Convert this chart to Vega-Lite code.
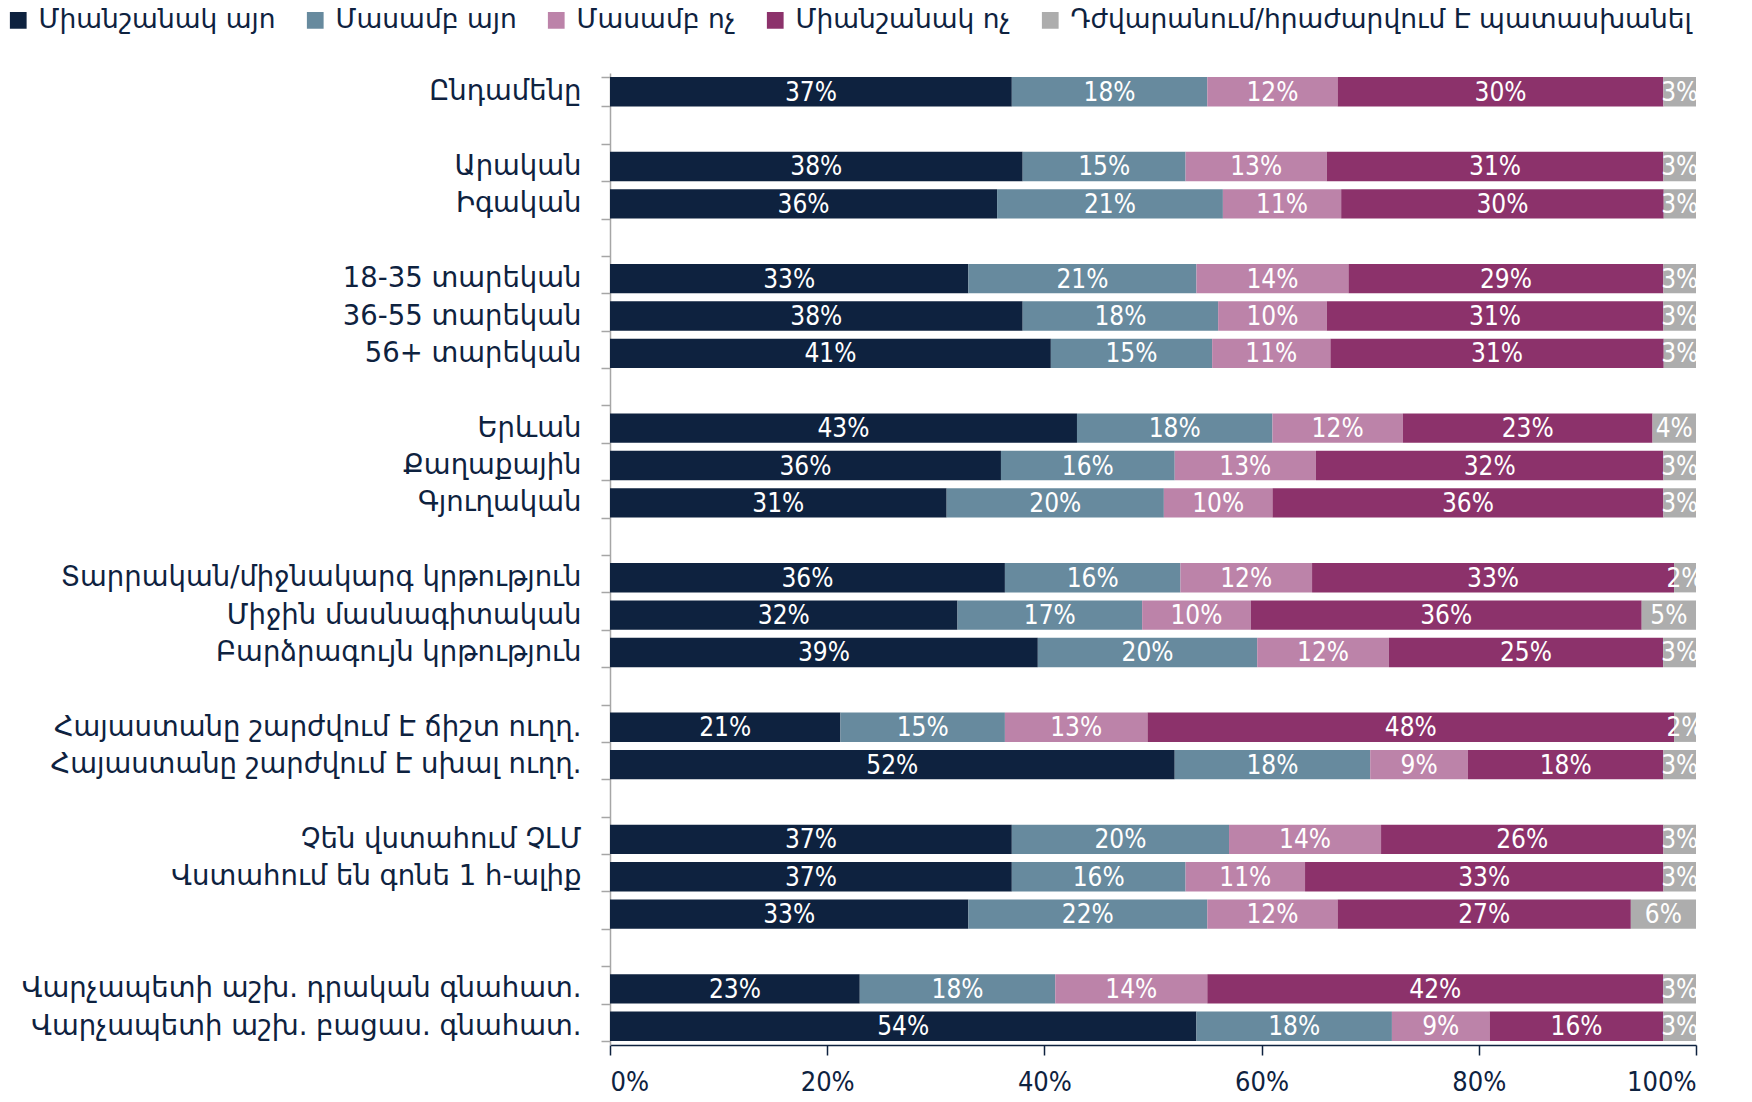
{
  "$schema": "https://vega.github.io/schema/vega-lite/v6.json",
  "autosize": "none",
  "width": 1086,
  "height": 972,
  "padding": {"left": 610, "top": 73, "right": 56, "bottom": 57},
  "background": "white",
  "config": {"view": {"stroke": null}},
  "data": {"values": [
    {"g":"Ընդամենը","r":"Միանշանակ այո","o":1,"v":0.37},{"g":"Ընդամենը","r":"Մասամբ այո","o":2,"v":0.18},{"g":"Ընդամենը","r":"Մասամբ ոչ","o":3,"v":0.12},{"g":"Ընդամենը","r":"Միանշանակ ոչ","o":4,"v":0.30},{"g":"Ընդամենը","r":"Դժվարանում/հրաժարվում Է պատասխանել","o":5,"v":0.03},
    {"g":"Արական","r":"Միանշանակ այո","o":1,"v":0.38},{"g":"Արական","r":"Մասամբ այո","o":2,"v":0.15},{"g":"Արական","r":"Մասամբ ոչ","o":3,"v":0.13},{"g":"Արական","r":"Միանշանակ ոչ","o":4,"v":0.31},{"g":"Արական","r":"Դժվարանում/հրաժարվում Է պատասխանել","o":5,"v":0.03},
    {"g":"Իգական","r":"Միանշանակ այո","o":1,"v":0.36},{"g":"Իգական","r":"Մասամբ այո","o":2,"v":0.21},{"g":"Իգական","r":"Մասամբ ոչ","o":3,"v":0.11},{"g":"Իգական","r":"Միանշանակ ոչ","o":4,"v":0.30},{"g":"Իգական","r":"Դժվարանում/հրաժարվում Է պատասխանել","o":5,"v":0.03},
    {"g":"18-35 տարեկան","r":"Միանշանակ այո","o":1,"v":0.33},{"g":"18-35 տարեկան","r":"Մասամբ այո","o":2,"v":0.21},{"g":"18-35 տարեկան","r":"Մասամբ ոչ","o":3,"v":0.14},{"g":"18-35 տարեկան","r":"Միանշանակ ոչ","o":4,"v":0.29},{"g":"18-35 տարեկան","r":"Դժվարանում/հրաժարվում Է պատասխանել","o":5,"v":0.03},
    {"g":"36-55 տարեկան","r":"Միանշանակ այո","o":1,"v":0.38},{"g":"36-55 տարեկան","r":"Մասամբ այո","o":2,"v":0.18},{"g":"36-55 տարեկան","r":"Մասամբ ոչ","o":3,"v":0.10},{"g":"36-55 տարեկան","r":"Միանշանակ ոչ","o":4,"v":0.31},{"g":"36-55 տարեկան","r":"Դժվարանում/հրաժարվում Է պատասխանել","o":5,"v":0.03},
    {"g":"56+ տարեկան","r":"Միանշանակ այո","o":1,"v":0.41},{"g":"56+ տարեկան","r":"Մասամբ այո","o":2,"v":0.15},{"g":"56+ տարեկան","r":"Մասամբ ոչ","o":3,"v":0.11},{"g":"56+ տարեկան","r":"Միանշանակ ոչ","o":4,"v":0.31},{"g":"56+ տարեկան","r":"Դժվարանում/հրաժարվում Է պատասխանել","o":5,"v":0.03},
    {"g":"Երևան","r":"Միանշանակ այո","o":1,"v":0.43},{"g":"Երևան","r":"Մասամբ այո","o":2,"v":0.18},{"g":"Երևան","r":"Մասամբ ոչ","o":3,"v":0.12},{"g":"Երևան","r":"Միանշանակ ոչ","o":4,"v":0.23},{"g":"Երևան","r":"Դժվարանում/հրաժարվում Է պատասխանել","o":5,"v":0.04},
    {"g":"Քաղաքային","r":"Միանշանակ այո","o":1,"v":0.36},{"g":"Քաղաքային","r":"Մասամբ այո","o":2,"v":0.16},{"g":"Քաղաքային","r":"Մասամբ ոչ","o":3,"v":0.13},{"g":"Քաղաքային","r":"Միանշանակ ոչ","o":4,"v":0.32},{"g":"Քաղաքային","r":"Դժվարանում/հրաժարվում Է պատասխանել","o":5,"v":0.03},
    {"g":"Գյուղական","r":"Միանշանակ այո","o":1,"v":0.31},{"g":"Գյուղական","r":"Մասամբ այո","o":2,"v":0.20},{"g":"Գյուղական","r":"Մասամբ ոչ","o":3,"v":0.10},{"g":"Գյուղական","r":"Միանշանակ ոչ","o":4,"v":0.36},{"g":"Գյուղական","r":"Դժվարանում/հրաժարվում Է պատասխանել","o":5,"v":0.03},
    {"g":"Տարրական/միջնակարգ կրթություն","r":"Միանշանակ այո","o":1,"v":0.36},{"g":"Տարրական/միջնակարգ կրթություն","r":"Մասամբ այո","o":2,"v":0.16},{"g":"Տարրական/միջնակարգ կրթություն","r":"Մասամբ ոչ","o":3,"v":0.12},{"g":"Տարրական/միջնակարգ կրթություն","r":"Միանշանակ ոչ","o":4,"v":0.33},{"g":"Տարրական/միջնակարգ կրթություն","r":"Դժվարանում/հրաժարվում Է պատասխանել","o":5,"v":0.02},
    {"g":"Միջին մասնագիտական","r":"Միանշանակ այո","o":1,"v":0.32},{"g":"Միջին մասնագիտական","r":"Մասամբ այո","o":2,"v":0.17},{"g":"Միջին մասնագիտական","r":"Մասամբ ոչ","o":3,"v":0.10},{"g":"Միջին մասնագիտական","r":"Միանշանակ ոչ","o":4,"v":0.36},{"g":"Միջին մասնագիտական","r":"Դժվարանում/հրաժարվում Է պատասխանել","o":5,"v":0.05},
    {"g":"Բարձրագույն կրթություն","r":"Միանշանակ այո","o":1,"v":0.39},{"g":"Բարձրագույն կրթություն","r":"Մասամբ այո","o":2,"v":0.20},{"g":"Բարձրագույն կրթություն","r":"Մասամբ ոչ","o":3,"v":0.12},{"g":"Բարձրագույն կրթություն","r":"Միանշանակ ոչ","o":4,"v":0.25},{"g":"Բարձրագույն կրթություն","r":"Դժվարանում/հրաժարվում Է պատասխանել","o":5,"v":0.03},
    {"g":"Հայաստանը շարժվում Է ճիշտ ուղղ.","r":"Միանշանակ այո","o":1,"v":0.21},{"g":"Հայաստանը շարժվում Է ճիշտ ուղղ.","r":"Մասամբ այո","o":2,"v":0.15},{"g":"Հայաստանը շարժվում Է ճիշտ ուղղ.","r":"Մասամբ ոչ","o":3,"v":0.13},{"g":"Հայաստանը շարժվում Է ճիշտ ուղղ.","r":"Միանշանակ ոչ","o":4,"v":0.48},{"g":"Հայաստանը շարժվում Է ճիշտ ուղղ.","r":"Դժվարանում/հրաժարվում Է պատասխանել","o":5,"v":0.02},
    {"g":"Հայաստանը շարժվում Է սխալ ուղղ.","r":"Միանշանակ այո","o":1,"v":0.52},{"g":"Հայաստանը շարժվում Է սխալ ուղղ.","r":"Մասամբ այո","o":2,"v":0.18},{"g":"Հայաստանը շարժվում Է սխալ ուղղ.","r":"Մասամբ ոչ","o":3,"v":0.09},{"g":"Հայաստանը շարժվում Է սխալ ուղղ.","r":"Միանշանակ ոչ","o":4,"v":0.18},{"g":"Հայաստանը շարժվում Է սխալ ուղղ.","r":"Դժվարանում/հրաժարվում Է պատասխանել","o":5,"v":0.03},
    {"g":"Չեն վստահում ՉԼՄ","r":"Միանշանակ այո","o":1,"v":0.37},{"g":"Չեն վստահում ՉԼՄ","r":"Մասամբ այո","o":2,"v":0.20},{"g":"Չեն վստահում ՉԼՄ","r":"Մասամբ ոչ","o":3,"v":0.14},{"g":"Չեն վստահում ՉԼՄ","r":"Միանշանակ ոչ","o":4,"v":0.26},{"g":"Չեն վստահում ՉԼՄ","r":"Դժվարանում/հրաժարվում Է պատասխանել","o":5,"v":0.03},
    {"g":"Վստահում են գոնե 1 հ-ալիք","r":"Միանշանակ այո","o":1,"v":0.37},{"g":"Վստահում են գոնե 1 հ-ալիք","r":"Մասամբ այո","o":2,"v":0.16},{"g":"Վստահում են գոնե 1 հ-ալիք","r":"Մասամբ ոչ","o":3,"v":0.11},{"g":"Վստահում են գոնե 1 հ-ալիք","r":"Միանշանակ ոչ","o":4,"v":0.33},{"g":"Վստահում են գոնե 1 հ-ալիք","r":"Դժվարանում/հրաժարվում Է պատասխանել","o":5,"v":0.03},
    {"g":"b1","r":"Միանշանակ այո","o":1,"v":0.33},{"g":"b1","r":"Մասամբ այո","o":2,"v":0.22},{"g":"b1","r":"Մասամբ ոչ","o":3,"v":0.12},{"g":"b1","r":"Միանշանակ ոչ","o":4,"v":0.27},{"g":"b1","r":"Դժվարանում/հրաժարվում Է պատասխանել","o":5,"v":0.06},
    {"g":"Վարչապետի աշխ. դրական գնահատ.","r":"Միանշանակ այո","o":1,"v":0.23},{"g":"Վարչապետի աշխ. դրական գնահատ.","r":"Մասամբ այո","o":2,"v":0.18},{"g":"Վարչապետի աշխ. դրական գնահատ.","r":"Մասամբ ոչ","o":3,"v":0.14},{"g":"Վարչապետի աշխ. դրական գնահատ.","r":"Միանշանակ ոչ","o":4,"v":0.42},{"g":"Վարչապետի աշխ. դրական գնահատ.","r":"Դժվարանում/հրաժարվում Է պատասխանել","o":5,"v":0.03},
    {"g":"Վարչապետի աշխ. բացաս. գնահատ.","r":"Միանշանակ այո","o":1,"v":0.54},{"g":"Վարչապետի աշխ. բացաս. գնահատ.","r":"Մասամբ այո","o":2,"v":0.18},{"g":"Վարչապետի աշխ. բացաս. գնահատ.","r":"Մասամբ ոչ","o":3,"v":0.09},{"g":"Վարչապետի աշխ. բացաս. գնահատ.","r":"Միանշանակ ոչ","o":4,"v":0.16},{"g":"Վարչապետի աշխ. բացաս. գնահատ.","r":"Դժվարանում/հրաժարվում Է պատասխանել","o":5,"v":0.03}
  ]},
  "encoding": {
    "y": {
      "field": "g", "type": "nominal",
      "scale": {
        "domain": ["Ընդամենը","g1","Արական","Իգական","g2","18-35 տարեկան","36-55 տարեկան","56+ տարեկան","g3","Երևան","Քաղաքային","Գյուղական","g4","Տարրական/միջնակարգ կրթություն","Միջին մասնագիտական","Բարձրագույն կրթություն","g5","Հայաստանը շարժվում Է ճիշտ ուղղ.","Հայաստանը շարժվում Է սխալ ուղղ.","g6","Չեն վստահում ՉԼՄ","Վստահում են գոնե 1 հ-ալիք","b1","g7","Վարչապետի աշխ. դրական գնահատ.","Վարչապետի աշխ. բացաս. գնահատ."],
        "paddingInner": 0.214, "paddingOuter": 0.107
      },
      "axis": {
        "title": null,
        "labelExpr": "length('' + (datum.label || '')) < 3 ? '' : datum.label",
        "tickBand": "extent",
        "domainColor": "#A6A6A6", "domainWidth": 1.5,
        "tickColor": "#A6A6A6", "tickWidth": 1.5, "tickSize": 9,
        "labelFont": "DejaVu Sans", "labelFontSize": 27.5, "labelColor": "#0E223F",
        "labelPadding": 20, "labelLimit": 700
      }
    }
  },
  "layer": [
    {
      "mark": {"type": "bar"},
      "encoding": {
        "x": {
          "field": "v", "type": "quantitative", "stack": "normalize",
          "scale": {"domain": [0, 1], "nice": false},
          "axis": {
            "title": null, "format": ".0%", "values": [0, 0.2, 0.4, 0.6, 0.8, 1],
            "grid": false, "domainColor": "#0E223F", "domainWidth": 1.5,
            "tickColor": "#0E223F", "tickWidth": 1.5, "tickSize": 10,
            "labelFont": "Liberation Sans Narrow, DejaVu Sans Condensed, Roboto Condensed, sans-serif", "labelFontSize": 27, "labelColor": "#0E223F",
            "labelPadding": 14
          }
        },
        "color": {
          "field": "r", "type": "nominal",
          "scale": {
            "domain": ["Միանշանակ այո","Մասամբ այո","Մասամբ ոչ","Միանշանակ ոչ","Դժվարանում/հրաժարվում Է պատասխանել"],
            "range": ["#0E223F","#678A9E","#BC83A9","#8C326B","#ADADAD"]
          },
          "legend": {
            "orient": "none", "legendX": -605, "legendY": -66,
            "direction": "horizontal", "columns": 5, "title": null,
            "symbolType": "square", "symbolSize": 280, "symbolStrokeWidth": 0, "symbolOpacity": 1,
            "labelFont": "DejaVu Sans", "labelFontSize": 26.5, "labelColor": "#0E223F",
            "labelOffset": 7, "columnPadding": 26, "labelLimit": 800
          }
        },
        "order": {"field": "o", "type": "quantitative"}
      }
    },
    {
      "mark": {"type": "text", "color": "white", "font": "Liberation Sans Narrow, DejaVu Sans Condensed, Roboto Condensed, sans-serif", "fontSize": 26, "align": "center", "baseline": "middle", "dy": 1},
      "encoding": {
        "x": {"field": "v", "type": "quantitative", "stack": "normalize", "bandPosition": 0.5},
        "detail": {"field": "r", "type": "nominal"},
        "order": {"field": "o", "type": "quantitative"},
        "text": {"field": "v", "type": "quantitative", "format": ".0%"}
      }
    }
  ]
}
